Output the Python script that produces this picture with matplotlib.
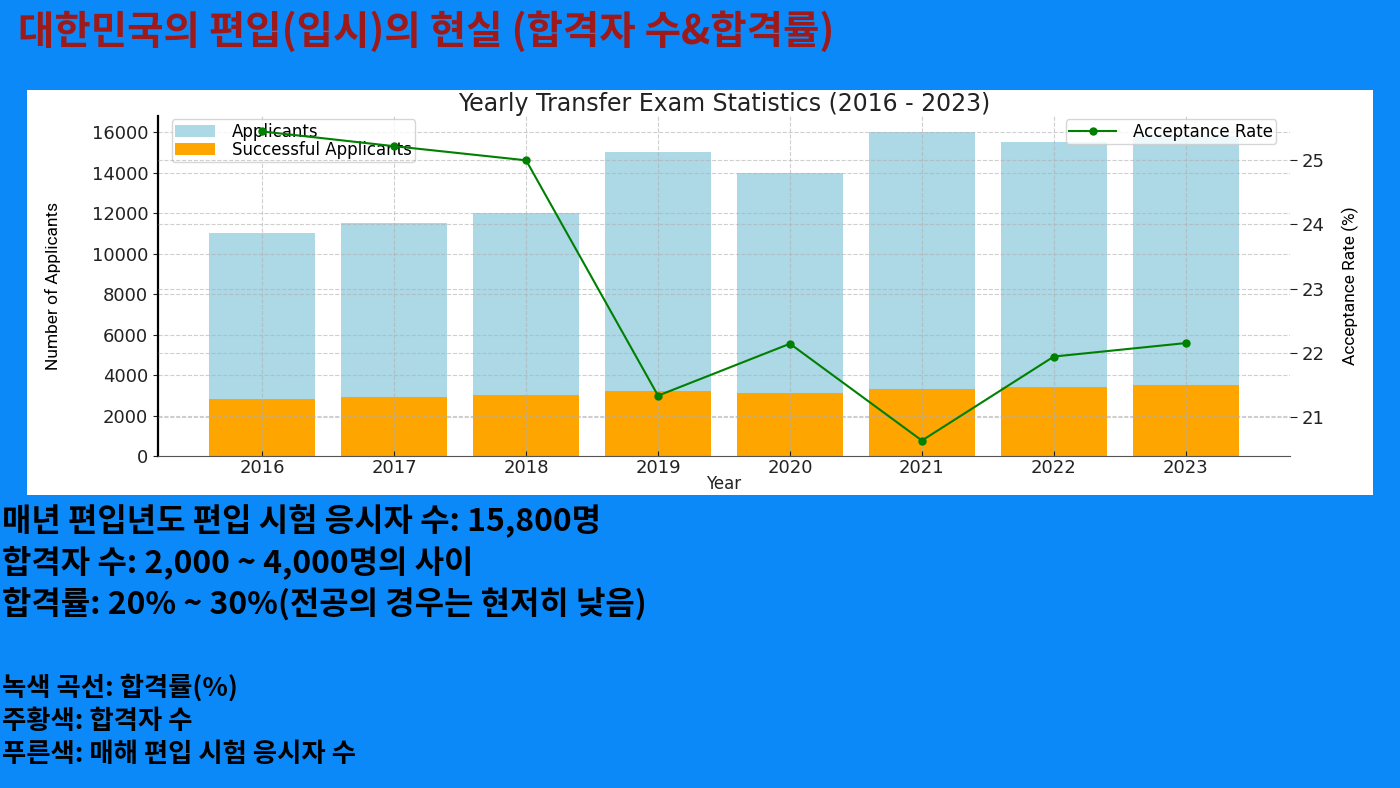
import matplotlib.pyplot as plt

# 연도별 데이터
years = ['2016', '2017', '2018', '2019', '2020', '2021', '2022', '2023']
applicants = [11000, 11500, 12000, 15000, 14000, 16000, 15500, 15800]
successful = [2800, 2900, 3000, 3200, 3100, 3300, 3400, 3500]
rate = [25.45, 25.22, 25.0, 21.33, 22.14, 20.63, 21.94, 22.15]

title_text = '대한민국의 편입(입시)의 현실 (합격자 수&합격률)'
info_lines = ['매년 편입년도 편입 시험 응시자 수: 15,800명',
              '합격자 수: 2,000 ~ 4,000명의 사이',
              '합격률: 20% ~ 30%(전공의 경우는 현저히 낮음)']
legend_lines = ['녹색 곡선: 합격률(%)',
                '주황색: 합격자 수',
                '푸른색: 매해 편입 시험 응시자 수']

kr = ['Noto Sans CJK KR', 'DejaVu Sans']
narrow = ['Roboto', 'DejaVu Sans']

fig = plt.figure(figsize=(14, 7.88), dpi=100)
fig.patch.set_facecolor('#0b89f8')

# 흰색 차트 패널 (뒤쪽)
panel = fig.add_axes([27 / 1400, 1 - 495 / 788, (1373 - 27) / 1400, (495 - 90) / 788], zorder=-5)
panel.set_facecolor('white')
panel.set_xticks([])
panel.set_yticks([])
for s in panel.spines.values():
    s.set_visible(False)

fig.text(18 / 1400, 1 - 32 / 788, title_text, family=kr, fontsize=28.5, fontweight='bold',
         color='#9e1a1a', va='center', ha='left')

for i, line in enumerate(info_lines):
    fig.text(2 / 1400, 1 - (521 + i * 41.5) / 788, line, family=kr, fontsize=23,
             fontweight='bold', color='black', va='center', ha='left')
for i, line in enumerate(legend_lines):
    fig.text(2 / 1400, 1 - (688 + i * 33.5) / 788, line, family=kr, fontsize=19,
             fontweight='bold', color='black', va='center', ha='left')

ax1 = fig.add_axes([158 / 1400, 1 - 456 / 788, (1290 - 158) / 1400, (456 - 116) / 788])
ax1.set_facecolor('none')
x = range(len(years))
ax1.bar(x, applicants, width=0.8, color='lightblue', label='Applicants')
ax1.bar(x, successful, width=0.8, color='orange', label='Successful Applicants')
ax1.set_xticks(list(x))
ax1.set_xticklabels(years)
ax1.set_yticks(range(0, 16001, 2000))
ax1.tick_params(labelsize=13, colors='#222222')
ax1.tick_params(axis='x', direction='in', pad=2)
ax1.set_xlabel('Year', fontsize=12, labelpad=-1, color='#222222')
ax1.set_ylabel('Number of Applicants', family=narrow, fontsize=12.5, labelpad=22)
ax1.grid(True, linestyle='--', alpha=0.6)
ax1.set_title('Yearly Transfer Exam Statistics (2016 - 2023)', fontsize=17, pad=2, color='#222222')
ax1.spines['top'].set_visible(False)
ax1.spines['right'].set_visible(False)
ax1.spines['left'].set_linewidth(1.6)
ax1.spines['bottom'].set_color('#555555')
ax1.legend(loc='upper left', fontsize=12, borderpad=0.2, labelspacing=0.0, handlelength=2.4,
           handletextpad=1.0, bbox_to_anchor=(0.005, 1.015))

ax2 = ax1.twinx()
ax2.plot(x, rate, color='green', marker='o', markersize=5, label='Acceptance Rate')
ax2.set_ylabel('Acceptance Rate (%)', family=narrow, fontsize=12.5, labelpad=12)
ax2.tick_params(labelsize=13, length=5, colors='#222222')
ax2.grid(True, linestyle='--', alpha=0.6)
for s in ax2.spines.values():
    s.set_visible(False)
ax2.legend(loc='upper right', fontsize=12, borderpad=0.2, handlelength=2.8, handletextpad=1.0,
           bbox_to_anchor=(0.995, 1.015))

fig.savefig('out.png', dpi=100, facecolor=fig.get_facecolor())
